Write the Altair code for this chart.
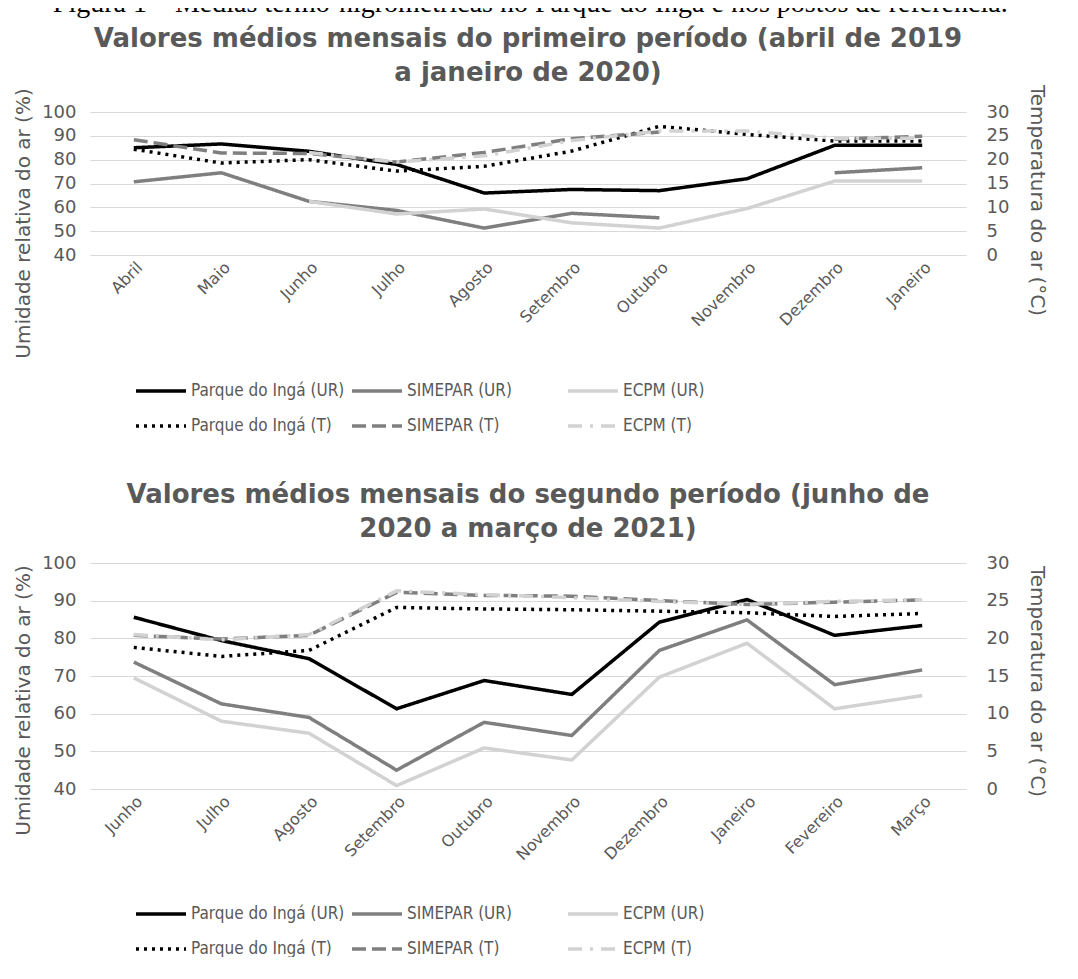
import altair as alt
import pandas as pd

# ---------------- data ----------------
meses1 = ["Abril", "Maio", "Junho", "Julho", "Agosto", "Setembro", "Outubro",
          "Novembro", "Dezembro", "Janeiro"]
parque_ur1 = [85.0, 86.6, 83.5, 78.0, 66.0, 67.5, 67.0, 72.0, 86.0, 86.0]
simepar_ur1 = [70.7, 74.5, 62.5, 58.7, 51.3, 57.5, 55.6, None, 74.5, 76.6]
ecpm_ur1 = [None, None, 62.5, 57.2, 59.3, 53.5, 51.3, 59.5, 71.0, 71.0]
parque_t1 = [22.2, 19.3, 20.0, 17.6, 18.6, 21.8, 27.0, 25.3, 23.9, 23.9]
simepar_t1 = [24.2, 21.4, 21.3, 19.5, 21.5, 24.4, 25.8, None, 24.3, 24.9]
ecpm_t1 = [None, None, 21.5, 19.5, 20.8, 24.0, 26.0, 26.0, 24.5, 24.5]

meses2 = ["Junho", "Julho", "Agosto", "Setembro", "Outubro", "Novembro",
          "Dezembro", "Janeiro", "Fevereiro", "Março"]
parque_ur2 = [85.6, 79.4, 74.6, 61.3, 68.8, 65.1, 84.3, 90.3, 80.8, 83.4]
simepar_ur2 = [73.7, 62.6, 59.0, 45.0, 57.7, 54.2, 76.8, 84.9, 67.7, 71.6]
ecpm_ur2 = [69.5, 58.0, 54.8, 40.9, 50.9, 47.7, 69.7, 78.7, 61.3, 64.8]
parque_t2 = [18.8, 17.6, 18.4, 24.1, 23.9, 23.8, 23.6, 23.4, 22.9, 23.3]
simepar_t2 = [20.4, 19.9, 20.4, 26.1, 25.7, 25.6, 25.0, 24.5, 24.8, 25.1]
ecpm_t2 = [20.5, 19.8, 20.5, 26.3, 25.8, 25.4, 24.9, 24.5, 24.9, 25.1]

series = ["Parque do Ingá (UR)", "SIMEPAR (UR)", "ECPM (UR)",
          "Parque do Ingá (T)", "SIMEPAR (T)", "ECPM (T)"]
cores = ["#000000", "#7f7f7f", "#d2d2d2", "#000000", "#7f7f7f", "#d2d2d2"]
tracos = [[1, 0], [1, 0], [1, 0], [3, 5], [14, 6], [14, 8, 3, 8]]

titulo1 = ["Valores médios mensais do primeiro período (abril de 2019",
           "a janeiro de 2020)"]
titulo2 = ["Valores médios mensais do segundo período (junho de",
           "2020 a março de 2021)"]
legenda_fig = "Figura 1 – Médias termo-higrométricas no Parque do Ingá e nos postos de referência."

GRAY = "#595959"
COND = "DejaVu Sans Condensed, Liberation Sans Narrow, DejaVu Sans"
WIDE = "DejaVu Sans"


def long_df(meses, cols):
    rows = []
    for nome, vals in cols:
        for m, v in zip(meses, vals):
            rows.append({"mes": m, "serie": nome, "valor": v})
    return pd.DataFrame(rows)


def painel(meses, ur_cols, t_cols, titulo, h, ty_left, ty_right, t_off, leg_y):
    df_ur = long_df(meses, ur_cols)
    df_t = long_df(meses, t_cols)
    x = alt.X("mes:N", sort=meses, title=None,
              axis=alt.Axis(labelAngle=-45, labelFontSize=16, labelFont=WIDE,
                            labelColor=GRAY, ticks=False, domain=False,
                            labelPadding=4, grid=False))
    leg = alt.Legend(title=None, orient="none", legendX=44, legendY=h + leg_y,
                     direction="horizontal")
    color = alt.Color("serie:N", scale=alt.Scale(domain=series, range=cores), legend=leg)
    dash = alt.StrokeDash("serie:N", scale=alt.Scale(domain=series, range=tracos), legend=leg)
    ur = alt.Chart(df_ur).mark_line(strokeWidth=3.5).encode(
        x=x,
        y=alt.Y("valor:Q", scale=alt.Scale(domain=[40, 100]),
                axis=alt.Axis(title="Umidade relativa do ar (%)", values=list(range(40, 101, 10)),
                              orient="left", grid=True, gridColor="#d9d9d9",
                              ticks=False, domain=False, labelPadding=14,
                              titlePadding=8, titleY=ty_left)),
        color=color, strokeDash=dash,
        detail="serie:N",
    )
    t = alt.Chart(df_t).mark_line(strokeWidth=3.5).encode(
        x=x,
        y=alt.Y("valor:Q", scale=alt.Scale(domain=[0, 30]),
                axis=alt.Axis(title="Temperatura do ar (°C)", values=list(range(0, 31, 5)),
                              orient="right", grid=False, ticks=False, domain=False,
                              labelPadding=20, titlePadding=18, titleY=ty_right)),
        color=color, strokeDash=dash,
        detail="serie:N",
    )
    return alt.layer(ur, t).resolve_scale(y="independent").properties(
        width=876, height=h,
        title=alt.TitleParams(titulo, fontSize=26, font=WIDE, fontWeight="bold",
                              color=GRAY, lineHeight=34, anchor="middle", offset=t_off),
    )


p1 = painel(meses1,
            [(series[0], parque_ur1), (series[1], simepar_ur1), (series[2], ecpm_ur1)],
            [(series[3], parque_t1), (series[4], simepar_t1), (series[5], ecpm_t1)],
            titulo1, 143, 111, 88, -2, 109)
p2 = painel(meses2,
            [(series[0], parque_ur2), (series[1], simepar_ur2), (series[2], ecpm_ur2)],
            [(series[3], parque_t2), (series[4], simepar_t2), (series[5], ecpm_t2)],
            titulo2, 226, 137, 118, 12, 98)

chart = alt.vconcat(p1, p2, spacing=48).resolve_scale(
    color="independent", strokeDash="independent"
).resolve_legend(color="independent", strokeDash="independent").properties(
    title=alt.TitleParams(legenda_fig, font="Liberation Serif", fontSize=28,
                          fontWeight="normal", color="#000000", anchor="middle",
                          offset=8),
    padding={"left": 5, "top": -18, "right": 5, "bottom": 0},
).configure_view(stroke=None).configure_axis(
    labelFont=WIDE, labelFontSize=18, labelColor=GRAY,
    titleFont=WIDE, titleFontSize=20, titleColor=GRAY, titleFontWeight="normal",
).configure_legend(
    columns=3, symbolType="stroke", symbolSize=2500, gridAlign="all",
    symbolStrokeWidth=3.5, labelFont=COND, labelFontSize=17, labelColor=GRAY,
    columnPadding=0, rowPadding=-13, labelLimit=300, labelOffset=3,
)

chart.save("out.html", embed_options={"renderer": "svg", "actions": False})
